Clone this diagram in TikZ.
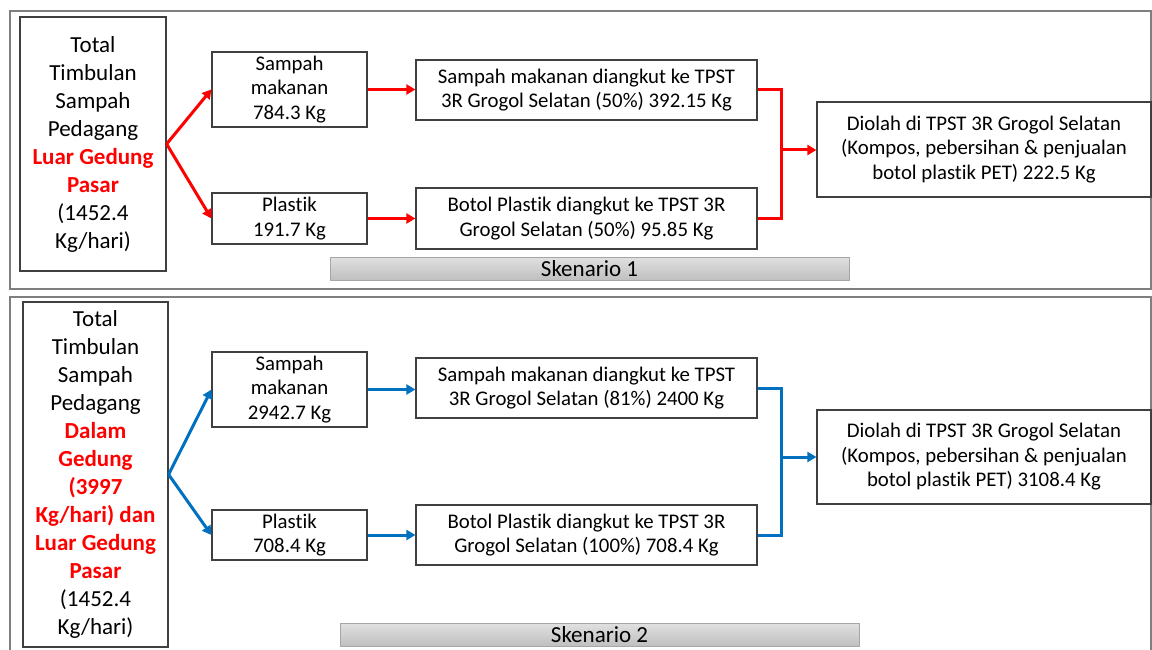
\documentclass[tikz,border=0pt]{standalone}
\usepackage{fontspec}
\setmainfont[Ligatures=NoCommon]{Carlito}
\usetikzlibrary{arrows.meta,calc}
\definecolor{myred}{HTML}{FF0000}
\definecolor{myblue}{HTML}{0070C0}
\definecolor{framegray}{HTML}{7F7F7F}
\definecolor{boxgray}{HTML}{404040}
\definecolor{bargray}{HTML}{A6A6A6}
\tikzset{
  box/.style={draw=boxgray,line width=1.2pt,fill=white,inner sep=0pt,align=center,text=black},
  bigtxt/.style={font=\fontsize{23}{28}\selectfont},
  smalltxt/.style={font=\fontsize{20.8}{24.5}\selectfont},
  bar/.style={draw=bargray,line width=1pt,top color=black!12,bottom color=black!25,inner sep=0pt,font=\fontsize{23}{24}\selectfont},
  frame/.style={draw=framegray,line width=1.5pt},
  redflow/.style={draw=myred,line width=3pt,line join=miter},
  blueflow/.style={draw=myblue,line width=3pt,line join=miter},
  tipped/.style={-{Triangle[length=9pt,width=10pt]}}
}
\begin{document}
\begin{tikzpicture}[x=1pt,y=-1pt]
\clip (0,0) rectangle (1152,650);
\fill[white] (0,0) rectangle (1152,650);
% frames
\draw[frame] (10,11) rectangle (1151,289);
\draw[frame] (10,297) rectangle (1151,670);

% ---------- Scenario 1 ----------
\node[box,bigtxt,minimum width=146pt,minimum height=254pt] (L1) at (93,144)
  {Total\\Timbulan\\Sampah\\Pedagang\\\textcolor{myred}{\textbf{Luar Gedung}}\\\textcolor{myred}{\textbf{Pasar}}\\(1452.4\\Kg/hari)};
\node[box,smalltxt,minimum width=155pt,minimum height=75pt] (S1) at (289.5,89.5) {Sampah\\makanan\\784.3 Kg};
\node[box,smalltxt,minimum width=155pt,minimum height=51pt] (P1) at (289.5,218.5) {Plastik\\191.7 Kg};
\node[box,smalltxt,minimum width=341pt,minimum height=60pt] (A1) at (586.5,90) {Sampah makanan diangkut ke TPST\\3R Grogol Selatan (50\%) 392.15 Kg};
\node[box,smalltxt,minimum width=341pt,minimum height=61pt] (B1) at (586.5,218.5) {Botol Plastik diangkut ke TPST 3R\\Grogol Selatan (50\%) 95.85 Kg};
\node[box,smalltxt,minimum width=334pt,minimum height=95pt] (R1) at (984,149.5) {Diolah di TPST 3R Grogol Selatan\\(Kompos, pebersihan \& penjualan\\botol plastik PET) 222.5 Kg};
\node[bar,minimum width=519pt,minimum height=23pt] (K1) at (589.5,268.5) {Skenario 1};
\coordinate (J1) at (781,150);

\draw[redflow,tipped] (L1.east) -- (S1.west);
\draw[redflow,tipped] (L1.east) -- (P1.west);
\draw[redflow,tipped] (S1.east) -- (S1.east -| A1.west);
\draw[redflow,tipped] (P1.east) -- (P1.east -| B1.west);
\draw[redflow] (A1.east) -- (A1.east -| J1) -- (B1.east -| J1) -- (B1.east);
\draw[redflow,tipped] (J1) -- (J1 -| R1.west);

% ---------- Scenario 2 ----------
\node[box,bigtxt,minimum width=145pt,minimum height=345pt] (L2) at (95.5,474.5)
  {Total\\Timbulan\\Sampah\\Pedagang\\\textcolor{myred}{\textbf{Dalam}}\\\textcolor{myred}{\textbf{Gedung}}\\\textcolor{myred}{\textbf{(3997}}\\\textcolor{myred}{\textbf{Kg/hari) dan}}\\\textcolor{myred}{\textbf{Luar Gedung}}\\\textcolor{myred}{\textbf{Pasar}}\\(1452.4\\Kg/hari)};
\node[box,smalltxt,minimum width=155pt,minimum height=75pt] (S2) at (289.5,389.5) {Sampah\\makanan\\2942.7 Kg};
\node[box,smalltxt,minimum width=155pt,minimum height=50pt] (P2) at (289.5,535) {Plastik\\708.4 Kg};
\node[box,smalltxt,minimum width=341pt,minimum height=60pt] (A2) at (586.5,388) {Sampah makanan diangkut ke TPST\\3R Grogol Selatan (81\%) 2400 Kg};
\node[box,smalltxt,minimum width=341pt,minimum height=60pt] (B2) at (586.5,535) {Botol Plastik diangkut ke TPST 3R\\Grogol Selatan (100\%) 708.4 Kg};
\node[box,smalltxt,minimum width=334pt,minimum height=94pt] (R2) at (984,457) {Diolah di TPST 3R Grogol Selatan\\(Kompos, pebersihan \& penjualan\\botol plastik PET) 3108.4 Kg};
\node[bar,minimum width=519pt,minimum height=23pt] (K2) at (599.5,634.5) {Skenario 2};
\coordinate (J2) at (781,457);

\draw[blueflow,tipped] (L2.east) -- (S2.west);
\draw[blueflow,tipped] (L2.east) -- (P2.west);
\draw[blueflow,tipped] (S2.east) -- (S2.east -| A2.west);
\draw[blueflow,tipped] (P2.east) -- (P2.east -| B2.west);
\draw[blueflow] (A2.east) -- (A2.east -| J2) -- (B2.east -| J2) -- (B2.east);
\draw[blueflow,tipped] (J2) -- (J2 -| R2.west);
\end{tikzpicture}
\end{document}
